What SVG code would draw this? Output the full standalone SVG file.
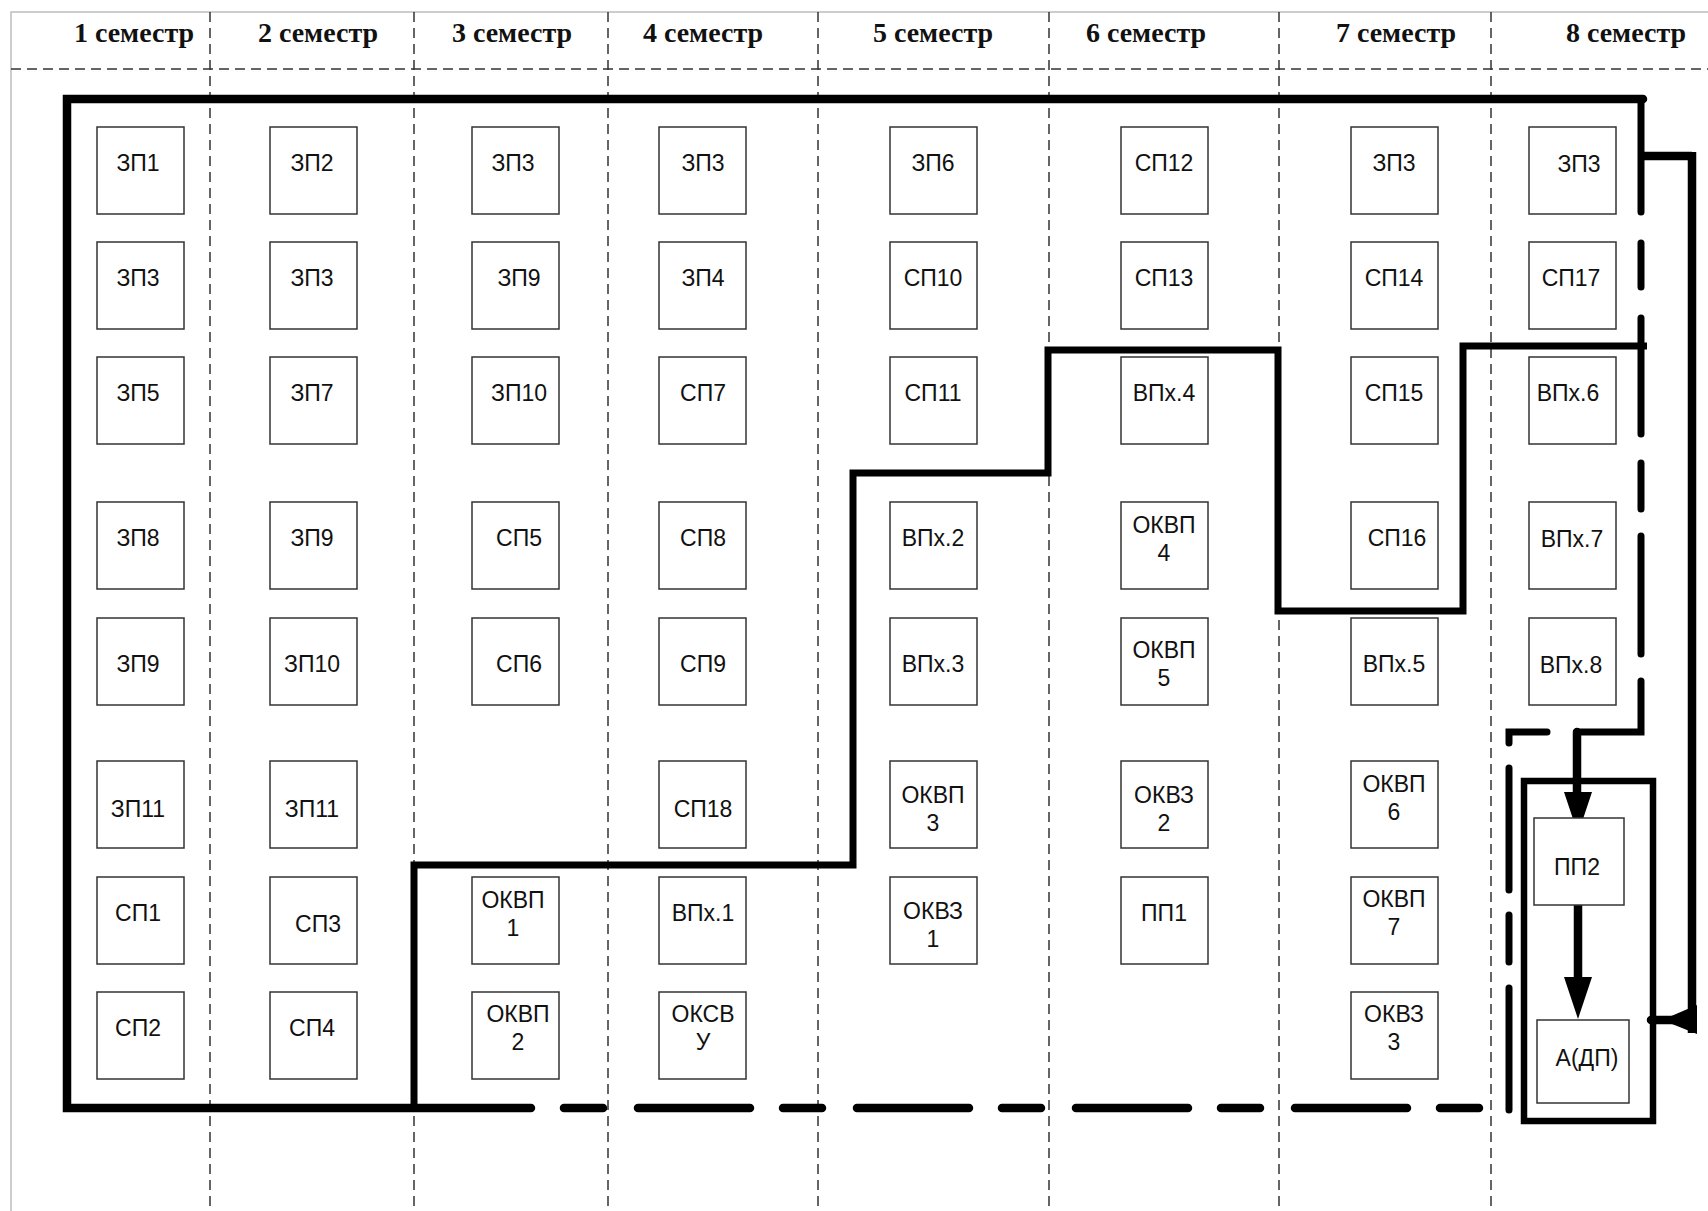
<svg xmlns="http://www.w3.org/2000/svg" width="1708" height="1211" viewBox="0 0 1708 1211">
<style>
.bg{fill:#fff}
.frame{stroke:#bdbdbd;stroke-width:1.5;fill:none}
.grid{stroke:#333;stroke-width:1.5;stroke-dasharray:10 6;fill:none}
.hdr{font-family:"Liberation Serif","Times New Roman",serif;font-weight:bold;font-size:28px;fill:#111;text-anchor:middle}
.box{fill:#fff;stroke:#333;stroke-width:1.5}
.lbl{font-family:"Liberation Sans",Arial,sans-serif;font-size:23px;fill:#111;text-anchor:middle}
.thick{stroke:#000;stroke-width:8.5;fill:none;stroke-linejoin:miter}
.step{stroke:#000;stroke-width:7;fill:none;stroke-linejoin:miter}
.dash{stroke:#000;stroke-width:7;fill:none;stroke-linecap:round}
.head{fill:#000}
</style>
<rect class="bg" x="0" y="0" width="1708" height="1211"/>
<g id="grid">
<path class="frame" d="M11,1211 V12 H1708"/>
<path class="grid" d="M11,69 H1708"/>
<path class="grid" d="M210,12 V1211 M414,12 V1211 M608,12 V1211 M818,12 V1211 M1049,12 V1211 M1279,12 V1211 M1491,12 V1211"/>
</g>
<g id="headers">
<text class="hdr" x="134" y="42">1 семестр</text>
<text class="hdr" x="318" y="42">2 семестр</text>
<text class="hdr" x="512" y="42">3 семестр</text>
<text class="hdr" x="703" y="42">4 семестр</text>
<text class="hdr" x="933" y="42">5 семестр</text>
<text class="hdr" x="1146" y="42">6 семестр</text>
<text class="hdr" x="1396" y="42">7 семестр</text>
<text class="hdr" x="1626" y="42">8 семестр</text>
</g>
<g id="connectors">
<path class="thick" d="M1643,99 H67 V1108 H531" stroke-linecap="round"/>
<path class="thick" d="M564,1108 H1481" stroke-linecap="round" stroke-dasharray="39 35 112 33"/>
<path class="step" d="M414,1108 V865 H853 V473 H1048 V350 H1278 V611 H1463 V346 H1647"/>
<path class="dash" d="M1641,99 V212 M1641,243 V287 M1641,318 V434 M1641,463 V509 M1641,536 V654 M1641,681 V732 H1577"/>
<path class="dash" d="M1547,732 H1509 V743 M1509,768 V890 M1509,915 V962 M1509,988 V1110"/>
<path class="thick" d="M1640,156 H1692" stroke-width="8"/>
<path class="thick" d="M1692,152 V1033" stroke-width="10"/>
<path class="thick" d="M1692,1020 H1651" stroke-width="9" stroke-linecap="round"/>
<polygon class="head" points="1662,1020 1697,1005 1697,1034"/>
<rect x="1524" y="781" width="129" height="340" fill="none" stroke="#000" stroke-width="6.5"/>
<path class="thick" d="M1577,732 V796" stroke-width="8" stroke-linecap="round"/>
<polygon class="head" points="1564,792 1592,792 1578,834"/>
<path class="thick" d="M1578,903 V980" stroke-width="8" stroke-linecap="round"/>
<polygon class="head" points="1564,977 1592,977 1578,1019"/>
</g>
<g id="n-c1-r1"><rect class="box" x="97" y="127" width="87" height="87"/><text class="lbl" x="138" y="171">ЗП1</text></g>
<g id="n-c1-r2"><rect class="box" x="97" y="242" width="87" height="87"/><text class="lbl" x="138" y="286">ЗП3</text></g>
<g id="n-c1-r3"><rect class="box" x="97" y="357" width="87" height="87"/><text class="lbl" x="138" y="401">ЗП5</text></g>
<g id="n-c1-r4"><rect class="box" x="97" y="502" width="87" height="87"/><text class="lbl" x="138" y="546">ЗП8</text></g>
<g id="n-c1-r5"><rect class="box" x="97" y="618" width="87" height="87"/><text class="lbl" x="138" y="672">ЗП9</text></g>
<g id="n-c1-r6"><rect class="box" x="97" y="761" width="87" height="87"/><text class="lbl" x="138" y="817">ЗП11</text></g>
<g id="n-c1-r7"><rect class="box" x="97" y="877" width="87" height="87"/><text class="lbl" x="138" y="921">СП1</text></g>
<g id="n-c1-r8"><rect class="box" x="97" y="992" width="87" height="87"/><text class="lbl" x="138" y="1036">СП2</text></g>

<g id="n-c2-r1"><rect class="box" x="270" y="127" width="87" height="87"/><text class="lbl" x="312" y="171">ЗП2</text></g>
<g id="n-c2-r2"><rect class="box" x="270" y="242" width="87" height="87"/><text class="lbl" x="312" y="286">ЗП3</text></g>
<g id="n-c2-r3"><rect class="box" x="270" y="357" width="87" height="87"/><text class="lbl" x="312" y="401">ЗП7</text></g>
<g id="n-c2-r4"><rect class="box" x="270" y="502" width="87" height="87"/><text class="lbl" x="312" y="546">ЗП9</text></g>
<g id="n-c2-r5"><rect class="box" x="270" y="618" width="87" height="87"/><text class="lbl" x="312" y="672">ЗП10</text></g>
<g id="n-c2-r6"><rect class="box" x="270" y="761" width="87" height="87"/><text class="lbl" x="312" y="817">ЗП11</text></g>
<g id="n-c2-r7"><rect class="box" x="270" y="877" width="87" height="87"/><text class="lbl" x="318" y="932">СП3</text></g>
<g id="n-c2-r8"><rect class="box" x="270" y="992" width="87" height="87"/><text class="lbl" x="312" y="1036">СП4</text></g>

<g id="n-c3-r1"><rect class="box" x="472" y="127" width="87" height="87"/><text class="lbl" x="513" y="171">ЗП3</text></g>
<g id="n-c3-r2"><rect class="box" x="472" y="242" width="87" height="87"/><text class="lbl" x="519" y="286">ЗП9</text></g>
<g id="n-c3-r3"><rect class="box" x="472" y="357" width="87" height="87"/><text class="lbl" x="519" y="401">ЗП10</text></g>
<g id="n-c3-r4"><rect class="box" x="472" y="502" width="87" height="87"/><text class="lbl" x="519" y="546">СП5</text></g>
<g id="n-c3-r5"><rect class="box" x="472" y="618" width="87" height="87"/><text class="lbl" x="519" y="672">СП6</text></g>
<g id="n-c3-r7"><rect class="box" x="472" y="877" width="87" height="87"/><text class="lbl" x="513" y="908">ОКВП</text><text class="lbl" x="513" y="936">1</text></g>
<g id="n-c3-r8"><rect class="box" x="472" y="992" width="87" height="87"/><text class="lbl" x="518" y="1022">ОКВП</text><text class="lbl" x="518" y="1050">2</text></g>

<g id="n-c4-r1"><rect class="box" x="659" y="127" width="87" height="87"/><text class="lbl" x="703" y="171">ЗП3</text></g>
<g id="n-c4-r2"><rect class="box" x="659" y="242" width="87" height="87"/><text class="lbl" x="703" y="286">ЗП4</text></g>
<g id="n-c4-r3"><rect class="box" x="659" y="357" width="87" height="87"/><text class="lbl" x="703" y="401">СП7</text></g>
<g id="n-c4-r4"><rect class="box" x="659" y="502" width="87" height="87"/><text class="lbl" x="703" y="546">СП8</text></g>
<g id="n-c4-r5"><rect class="box" x="659" y="618" width="87" height="87"/><text class="lbl" x="703" y="672">СП9</text></g>
<g id="n-c4-r6"><rect class="box" x="659" y="761" width="87" height="87"/><text class="lbl" x="703" y="817">СП18</text></g>
<g id="n-c4-r7"><rect class="box" x="659" y="877" width="87" height="87"/><text class="lbl" x="703" y="921">ВПх.1</text></g>
<g id="n-c4-r8"><rect class="box" x="659" y="992" width="87" height="87"/><text class="lbl" x="703" y="1022">ОКСВ</text><text class="lbl" x="703" y="1050">У</text></g>

<g id="n-c5-r1"><rect class="box" x="890" y="127" width="87" height="87"/><text class="lbl" x="933" y="171">ЗП6</text></g>
<g id="n-c5-r2"><rect class="box" x="890" y="242" width="87" height="87"/><text class="lbl" x="933" y="286">СП10</text></g>
<g id="n-c5-r3"><rect class="box" x="890" y="357" width="87" height="87"/><text class="lbl" x="933" y="401">СП11</text></g>
<g id="n-c5-r4"><rect class="box" x="890" y="502" width="87" height="87"/><text class="lbl" x="933" y="546">ВПх.2</text></g>
<g id="n-c5-r5"><rect class="box" x="890" y="618" width="87" height="87"/><text class="lbl" x="933" y="672">ВПх.3</text></g>
<g id="n-c5-r6"><rect class="box" x="890" y="761" width="87" height="87"/><text class="lbl" x="933" y="803">ОКВП</text><text class="lbl" x="933" y="831">3</text></g>
<g id="n-c5-r7"><rect class="box" x="890" y="877" width="87" height="87"/><text class="lbl" x="933" y="919">ОКВЗ</text><text class="lbl" x="933" y="947">1</text></g>

<g id="n-c6-r1"><rect class="box" x="1121" y="127" width="87" height="87"/><text class="lbl" x="1164" y="171">СП12</text></g>
<g id="n-c6-r2"><rect class="box" x="1121" y="242" width="87" height="87"/><text class="lbl" x="1164" y="286">СП13</text></g>
<g id="n-c6-r3"><rect class="box" x="1121" y="357" width="87" height="87"/><text class="lbl" x="1164" y="401">ВПх.4</text></g>
<g id="n-c6-r4"><rect class="box" x="1121" y="502" width="87" height="87"/><text class="lbl" x="1164" y="533">ОКВП</text><text class="lbl" x="1164" y="561">4</text></g>
<g id="n-c6-r5"><rect class="box" x="1121" y="618" width="87" height="87"/><text class="lbl" x="1164" y="658">ОКВП</text><text class="lbl" x="1164" y="686">5</text></g>
<g id="n-c6-r6"><rect class="box" x="1121" y="761" width="87" height="87"/><text class="lbl" x="1164" y="803">ОКВЗ</text><text class="lbl" x="1164" y="831">2</text></g>
<g id="n-c6-r7"><rect class="box" x="1121" y="877" width="87" height="87"/><text class="lbl" x="1164" y="921">ПП1</text></g>

<g id="n-c7-r1"><rect class="box" x="1351" y="127" width="87" height="87"/><text class="lbl" x="1394" y="171">ЗП3</text></g>
<g id="n-c7-r2"><rect class="box" x="1351" y="242" width="87" height="87"/><text class="lbl" x="1394" y="286">СП14</text></g>
<g id="n-c7-r3"><rect class="box" x="1351" y="357" width="87" height="87"/><text class="lbl" x="1394" y="401">СП15</text></g>
<g id="n-c7-r4"><rect class="box" x="1351" y="502" width="87" height="87"/><text class="lbl" x="1397" y="546">СП16</text></g>
<g id="n-c7-r5"><rect class="box" x="1351" y="618" width="87" height="87"/><text class="lbl" x="1394" y="672">ВПх.5</text></g>
<g id="n-c7-r6"><rect class="box" x="1351" y="761" width="87" height="87"/><text class="lbl" x="1394" y="792">ОКВП</text><text class="lbl" x="1394" y="820">6</text></g>
<g id="n-c7-r7"><rect class="box" x="1351" y="877" width="87" height="87"/><text class="lbl" x="1394" y="907">ОКВП</text><text class="lbl" x="1394" y="935">7</text></g>
<g id="n-c7-r8"><rect class="box" x="1351" y="992" width="87" height="87"/><text class="lbl" x="1394" y="1022">ОКВЗ</text><text class="lbl" x="1394" y="1050">3</text></g>

<g id="n-c8-r1"><rect class="box" x="1529" y="127" width="87" height="87"/><text class="lbl" x="1579" y="172">ЗП3</text></g>
<g id="n-c8-r2"><rect class="box" x="1529" y="242" width="87" height="87"/><text class="lbl" x="1571" y="286">СП17</text></g>
<g id="n-c8-r3"><rect class="box" x="1529" y="357" width="87" height="87"/><text class="lbl" x="1568" y="401">ВПх.6</text></g>
<g id="n-c8-r4"><rect class="box" x="1529" y="502" width="87" height="87"/><text class="lbl" x="1572" y="547">ВПх.7</text></g>
<g id="n-c8-r5"><rect class="box" x="1529" y="618" width="87" height="87"/><text class="lbl" x="1571" y="673">ВПх.8</text></g>
<g id="n-pp2"><rect class="box" x="1534" y="818" width="90" height="87"/><text class="lbl" x="1577" y="875">ПП2</text></g>
<g id="n-adp"><rect class="box" x="1537" y="1020" width="92" height="83"/><text class="lbl" x="1587" y="1066">А(ДП)</text></g>
</svg>
